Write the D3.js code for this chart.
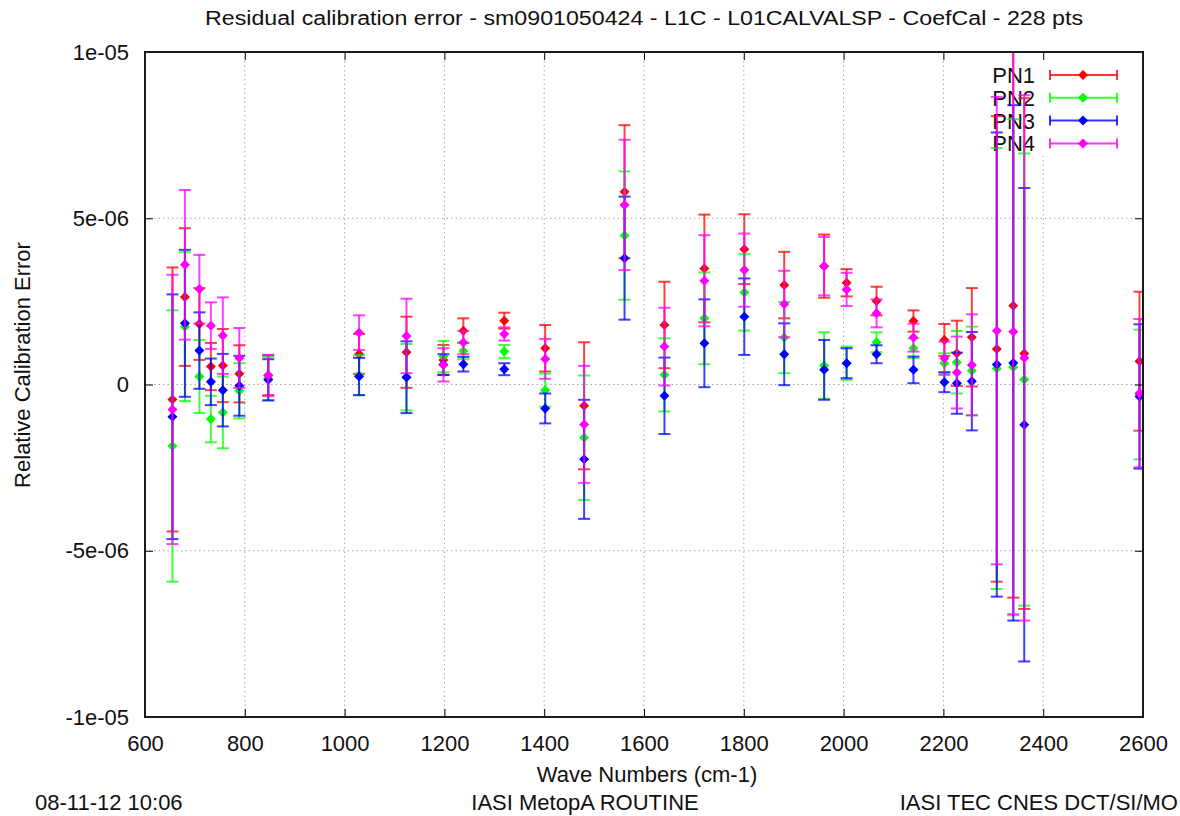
<!DOCTYPE html>
<html>
<head>
<meta charset="utf-8">
<script src="https://cdn.jsdelivr.net/npm/d3@7"></script>
<style>
  body { margin: 0; background: #fff; }
  text { font-family: "Liberation Sans", Arial, sans-serif; fill: #111; }
</style>
</head>
<body>
<svg id="chart" width="1180" height="816"></svg>
<script>
// wave numbers (cm-1) of the calibration points
var waveNumbers = [655, 680, 709, 732, 756, 789, 847, 1029, 1124, 1198, 1238, 1320, 1402, 1480, 1561,
                   1641, 1721, 1801, 1881, 1961, 2006, 2066, 2140, 2202, 2227, 2257, 2307, 2340, 2362, 2593];

// values in units of 1e-06, with half error bar
var pn1Value = [-0.45, 2.63, 1.82, 0.54, 0.57, 0.32, 0.28, 0.92, 0.97, 0.74, 1.62, 1.92, 1.09, -0.64, 5.8,
                1.79, 3.49, 4.07, 2.99, 3.56, 3.06, 2.51, 1.91, 1.34, 0.94, 1.42, 1.07, 2.37, 0.93, 0.7];
var pn1Err   = [3.97, 2.07, 1.08, 0.71, 1.1, 0.86, 0.6, 0.6, 1.07, 0.45, 0.37, 0.24, 0.7, 1.91, 2.0,
                1.3, 1.62, 1.05, 1.0, 0.95, 0.41, 0.43, 0.32, 0.48, 0.98, 1.48, 7.0, 8.78, 7.68, 2.09];
var pn2Value = [-1.85, 1.74, 0.24, -1.04, -0.84, -0.19, 0.18, 0.28, 0.22, 0.84, 1.01, 0.99, -0.17, -1.6, 4.48,
                0.29, 1.99, 2.77, 1.41, 0.57, 0.64, 1.27, 1.09, 0.64, 0.67, 0.41, 0.48, 0.52, 0.15, -0.3];
var pn2Err   = [4.08, 2.24, 1.1, 0.7, 1.08, 0.83, 0.65, 0.6, 1.0, 0.47, 0.25, 0.2, 0.5, 1.87, 1.93,
                1.1, 1.38, 1.15, 1.07, 1.0, 0.5, 0.3, 0.3, 0.3, 0.94, 1.33, 6.63, 7.46, 6.8, 1.95];
var pn3Value = [-0.97, 1.84, 1.02, 0.08, -0.17, -0.04, 0.14, 0.24, 0.22, 0.6, 0.61, 0.46, -0.72, -2.25, 3.8,
                -0.34, 1.24, 2.04, 0.91, 0.44, 0.64, 0.91, 0.44, 0.07, 0.04, 0.1, 0.6, 0.65, -1.21, -0.36];
var pn3Err   = [3.68, 2.21, 1.15, 0.7, 1.09, 0.9, 0.62, 0.56, 1.08, 0.31, 0.22, 0.18, 0.45, 1.79, 1.85,
                1.15, 1.32, 1.15, 0.93, 0.9, 0.45, 0.27, 0.4, 0.3, 0.92, 1.48, 6.98, 7.75, 7.12, 2.17];
var pn4Value = [-0.75, 3.6, 2.87, 1.77, 1.47, 0.8, 0.27, 1.56, 1.46, 0.59, 1.26, 1.52, 0.77, -1.2, 5.4,
                1.14, 3.12, 3.44, 2.42, 3.56, 2.86, 2.14, 1.41, 0.79, 0.36, 0.59, 1.62, 1.59, 0.8, -0.26];
var pn4Err   = [4.05, 2.25, 1.03, 0.7, 1.15, 0.9, 0.62, 0.52, 1.12, 0.5, 0.35, 0.2, 0.6, 1.76, 1.96,
                1.17, 1.37, 1.1, 1.0, 0.88, 0.5, 0.42, 0.42, 0.5, 1.08, 1.52, 7.03, 8.5, 7.9, 2.23];

var seriesNames = ["PN1", "PN2", "PN3", "PN4"];
var seriesColors = ["#ff0000", "#00ff00", "#0000ff", "#ff00ff"];

var xTickValues = [600, 800, 1000, 1200, 1400, 1600, 1800, 2000, 2200, 2400, 2600];
var yTickValues = [-10, -5, 0, 5, 10];
var yTickLabels = ["-1e-05", "-5e-06", "0", "5e-06", "1e-05"];

var series = [
  {name: seriesNames[0], color: seriesColors[0], v: pn1Value, e: pn1Err},
  {name: seriesNames[1], color: seriesColors[1], v: pn2Value, e: pn2Err},
  {name: seriesNames[2], color: seriesColors[2], v: pn3Value, e: pn3Err},
  {name: seriesNames[3], color: seriesColors[3], v: pn4Value, e: pn4Err}
];

var pLeft = 145, pRight = 1143, pTop = 52, pBottom = 717;
var svg = d3.select("#chart");

var x = d3.scaleLinear().domain([600, 2600]).range([pLeft, pRight]);
var y = d3.scaleLinear().domain([-10, 10]).range([pBottom, pTop]);

// grid
var grid = svg.append("g").attr("stroke", "#a8a8a8").attr("stroke-width", 1)
  .attr("stroke-dasharray", "1.5,3");
grid.selectAll(".gx").data(xTickValues.slice(1, -1)).enter().append("line")
  .attr("x1", function(d) { return x(d); }).attr("x2", function(d) { return x(d); })
  .attr("y1", pTop).attr("y2", pBottom);
grid.selectAll(".gy").data(yTickValues.slice(1, -1)).enter().append("line")
  .attr("x1", pLeft).attr("x2", pRight)
  .attr("y1", function(d) { return y(d); }).attr("y2", function(d) { return y(d); });

// opaque key box
svg.append("rect").attr("x", 985).attr("y", pTop + 1).attr("width", 140).attr("height", 103)
  .attr("fill", "#fff");

// key text
var key = svg.append("g");
series.forEach(function(s, i) {
  var ky = 75 + i * 22.8;
  key.append("text").attr("x", 1035).attr("y", ky).attr("dy", "0.36em")
    .attr("text-anchor", "end").attr("font-size", 22).text(s.name);
});

// data
svg.append("clipPath").attr("id", "plotclip").append("rect")
  .attr("x", pLeft).attr("y", pTop).attr("width", pRight - pLeft).attr("height", pBottom - pTop);
var plot = svg.append("g").attr("clip-path", "url(#plotclip)");
var diamond = "M0,-5L5,0L0,5L-5,0Z";

series.forEach(function(s) {
  var pts = waveNumbers.map(function(w, i) { return {w: w, v: s.v[i], e: s.e[i]}; });
  var g = plot.append("g").attr("stroke", s.color).attr("stroke-width", 2).attr("stroke-opacity", 0.75);
  g.selectAll(".bar").data(pts).enter().append("line")
    .attr("x1", function(d) { return x(d.w); }).attr("x2", function(d) { return x(d.w); })
    .attr("y1", function(d) { return y(d.v - d.e); }).attr("y2", function(d) { return y(d.v + d.e); });
  g.selectAll(".capTop").data(pts).enter().append("line")
    .attr("x1", function(d) { return x(d.w) - 6; }).attr("x2", function(d) { return x(d.w) + 6; })
    .attr("y1", function(d) { return y(d.v + d.e); }).attr("y2", function(d) { return y(d.v + d.e); });
  g.selectAll(".capBot").data(pts).enter().append("line")
    .attr("x1", function(d) { return x(d.w) - 6; }).attr("x2", function(d) { return x(d.w) + 6; })
    .attr("y1", function(d) { return y(d.v - d.e); }).attr("y2", function(d) { return y(d.v - d.e); });
  plot.append("g").selectAll("path").data(pts).enter().append("path")
    .attr("d", diamond).attr("fill", s.color)
    .attr("transform", function(d) { return "translate(" + x(d.w) + "," + y(d.v) + ")"; });
});

// key samples
series.forEach(function(s, i) {
  var ky = 75 + i * 22.8;
  var g = key.append("g").attr("stroke", s.color).attr("stroke-width", 2).attr("stroke-opacity", 0.8);
  g.append("line").attr("x1", 1050).attr("x2", 1117).attr("y1", ky).attr("y2", ky);
  g.append("line").attr("x1", 1050).attr("x2", 1050).attr("y1", ky - 5).attr("y2", ky + 5);
  g.append("line").attr("x1", 1117).attr("x2", 1117).attr("y1", ky - 5).attr("y2", ky + 5);
  key.append("path").attr("d", diamond).attr("fill", s.color)
    .attr("transform", "translate(1083," + ky + ")");
});

// axes with mirrored ticks
var axB = d3.axisBottom(x).tickValues(xTickValues).tickSize(-8).tickPadding(18).tickFormat(d3.format("d"));
var axT = d3.axisTop(x).tickValues(xTickValues).tickSize(-8).tickFormat("");
var axL = d3.axisLeft(y).tickValues(yTickValues).tickSize(-8).tickPadding(16)
  .tickFormat(function(d, i) { return yTickLabels[i]; });
var axR = d3.axisRight(y).tickValues(yTickValues).tickSize(-8).tickFormat("");

function styleAxis(g) {
  g.select(".domain").remove();
  g.selectAll(".tick line").attr("stroke", "#000").attr("stroke-width", 1);
  g.selectAll(".tick text").attr("font-size", 22).attr("fill", "#111")
    .attr("font-family", "Liberation Sans, Arial, sans-serif");
}
svg.append("g").attr("transform", "translate(0," + pBottom + ")").call(axB).call(styleAxis);
svg.append("g").attr("transform", "translate(0," + pTop + ")").call(axT).call(styleAxis);
svg.append("g").attr("transform", "translate(" + pLeft + ",0)").call(axL).call(styleAxis);
svg.append("g").attr("transform", "translate(" + pRight + ",0)").call(axR).call(styleAxis);

svg.append("rect").attr("x", pLeft).attr("y", pTop).attr("width", pRight - pLeft).attr("height", pBottom - pTop)
  .attr("fill", "none").attr("stroke", "#1a1a1a").attr("stroke-width", 2);

// texts
svg.append("text").attr("x", 644).attr("y", 25).attr("text-anchor", "middle").attr("font-size", 20)
  .attr("textLength", 878).attr("lengthAdjust", "spacingAndGlyphs")
  .text("Residual calibration error - sm0901050424 - L1C - L01CALVALSP - CoefCal - 228 pts");
svg.append("text").attr("x", 647).attr("y", 782).attr("text-anchor", "middle").attr("font-size", 22)
  .text("Wave Numbers (cm-1)");
svg.append("text").attr("transform", "translate(30,365) rotate(-90)").attr("text-anchor", "middle")
  .attr("font-size", 22).text("Relative Calibration Error");
svg.append("text").attr("x", 35).attr("y", 810).attr("font-size", 22).text("08-11-12 10:06");
svg.append("text").attr("x", 585).attr("y", 810).attr("text-anchor", "middle").attr("font-size", 22)
  .text("IASI MetopA ROUTINE");
svg.append("text").attr("x", 1178).attr("y", 810).attr("text-anchor", "end").attr("font-size", 22)
  .text("IASI TEC CNES DCT/SI/MO");
</script>
</body>
</html>
